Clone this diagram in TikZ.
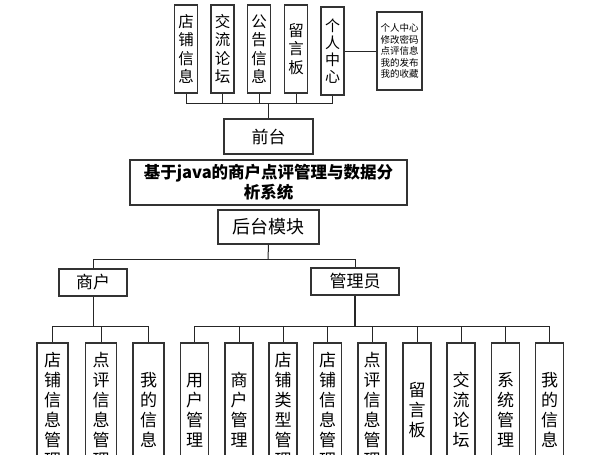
\documentclass[tikz,border=0pt]{standalone}
\usepackage{fontspec}
\setmainfont{Noto Sans CJK SC}
\begin{document}
\begin{tikzpicture}[x=1pt,y=-1pt,
  box/.style={draw=black!80,line width=1.1pt,inner sep=0pt,align=center,fill=white},
  vtop/.style={box,minimum width=23pt,minimum height=88pt,font=\fontsize{15.5}{18.5}\selectfont},
  vbot/.style={box,minimum width=28pt,minimum height=134pt,font=\fontsize{17}{20}\selectfont},
  vbotw/.style={vbot,minimum width=31pt},
  hbox/.style={box,font=\fontsize{17}{20}\selectfont},
  conn/.style={draw=black!85,line width=1pt}]
\useasboundingbox (0,0) rectangle (603,455);
\clip (0,0) rectangle (603,455);
\fill[white] (0,0) rectangle (603,455);
% top boxes
\node[vtop] (t1) at (186,49) {店\\铺\\信\\息};
\node[vtop] (t2) at (222.5,49) {交\\流\\论\\坛};
\node[vtop] (t3) at (259,49) {公\\告\\信\\息};
\node[vtop] (t4) at (296,49) {留\\言\\板};
\node[vtop,font=\fontsize{15}{17}\selectfont] (t5) at (332.5,51) {个\\人\\中\\心};
\node[box,minimum width=45pt,minimum height=78pt,font=\fontsize{9.5}{11.5}\selectfont] (side) at (399.5,51) {个人中心\\修改密码\\点评信息\\我的发布\\我的收藏};
\draw[conn] (t5.east) -- (side.west);
% 前台
\node[hbox,minimum width=89pt,minimum height=35pt] (qt) at (268.5,136.5) {前台};
\coordinate (tj) at (268,103);
\foreach \n in {t1,t2,t3,t4,t5}{\draw[conn] (\n.south) -- (\n.south |- tj);}
\draw[conn] (t1.south |- tj) -- (t5.south |- tj);
\draw[conn] (tj) -- (tj |- qt.north);
% title
\node[box,minimum width=277pt,minimum height=45pt,font=\bfseries\fontsize{16.5}{20}\selectfont] (title) at (268.5,182.5) {基于java的商户点评管理与数据分\\析系统};
% 后台模块
\node[hbox,minimum width=101pt,minimum height=34pt,font=\fontsize{18}{20}\selectfont] (ht) at (268.5,227) {后台模块};
% 商户 / 管理员
\node[hbox,minimum width=68pt,minimum height=27pt] (sh) at (93,282.5) {商户};
\node[hbox,minimum width=88pt,minimum height=27pt] (gly) at (355,281.5) {管理员};
\coordinate (hj) at (268,259);
\draw[conn] (ht.south) -- (hj);
\draw[conn] (sh.north) -- (sh.north |- hj) -- (gly.north |- hj) -- (gly.north);
% merchant children
\node[vbotw] (m1) at (52.5,410) {店\\铺\\信\\息\\管\\理};
\node[vbotw] (m2) at (101,410) {点\\评\\信\\息\\管\\理};
\node[vbotw] (m3) at (148.5,410) {我\\的\\信\\息};
\coordinate (mj) at (93,326);
\draw[conn] (sh.south) -- (mj);
\draw[conn] (m1.north |- mj) -- (m3.north |- mj);
\foreach \n in {m1,m2,m3}{\draw[conn] (\n.north |- mj) -- (\n.north);}
% admin children
\node[vbot] (a1) at (194.5,410) {用\\户\\管\\理};
\node[vbot] (a2) at (239,410) {商\\户\\管\\理};
\node[vbot] (a3) at (283,410) {店\\铺\\类\\型\\管\\理};
\node[vbot] (a4) at (327.5,410) {店\\铺\\信\\息\\管\\理};
\node[vbot] (a5) at (372,410) {点\\评\\信\\息\\管\\理};
\node[vbot] (a6) at (417,410) {留\\言\\板};
\node[vbot] (a7) at (461,410) {交\\流\\论\\坛};
\node[vbot] (a8) at (505.5,410) {系\\统\\管\\理};
\node[vbot] (a9) at (549.5,410) {我\\的\\信\\息};
\coordinate (aj) at (355,326);
\draw[conn,line width=1.6pt] (gly.south) -- (aj);
\draw[conn] (a1.north |- aj) -- (a9.north |- aj);
\foreach \n in {a1,a2,a3,a4,a5,a6,a7,a8,a9}{\draw[conn] (\n.north |- aj) -- (\n.north);}
\end{tikzpicture}
\end{document}
